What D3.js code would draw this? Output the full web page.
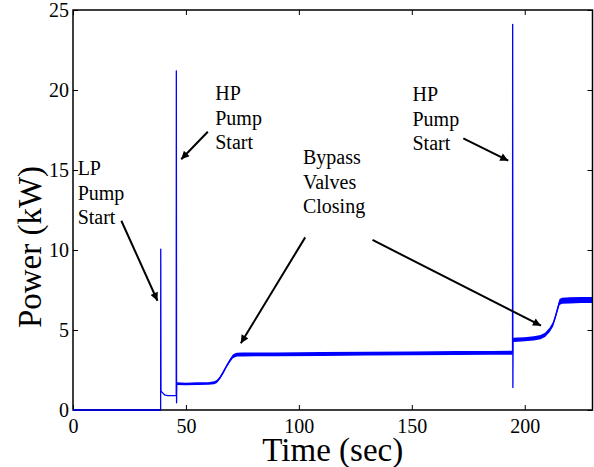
<!DOCTYPE html>
<html>
<head>
<meta charset="utf-8">
<script src="https://cdn.jsdelivr.net/npm/d3@7/dist/d3.min.js"></script>
<style>
  html, body { margin: 0; padding: 0; background: #fff; }
  svg { display: block; }
  svg text, svg tspan { font-family: "Liberation Serif", "Times New Roman", serif !important; fill: #000; }
</style>
</head>
<body>
<svg id="chart" width="594" height="467"></svg>
<script>
// Measured pump-skid power trace (time in seconds, power in kW)
const timeSec = [0, 38.8, 38.85, 38.95, 39.4, 40, 40.8, 42, 45.7, 45.75,
  45.85, 45.95, 50, 55, 60, 62.5, 63.7, 65, 66.5, 68,
  69.5, 70.8, 71.8, 72.6, 75, 90, 110, 130, 150, 170,
  185, 194.6, 194.65, 194.75, 194.85, 197, 200, 204, 207, 209,
  211, 212.5, 213.5, 214.5, 215.4, 216.5, 220, 225, 230];
const powerKW = [0, 0, 10.05, 1.2, 1.12, 1.02, 0.93, 0.9, 0.9, 21.2,
  0.45, 1.65, 1.63, 1.65, 1.66, 1.7, 1.78, 2.0, 2.35, 2.75,
  3.1, 3.35, 3.42, 3.46, 3.47, 3.48, 3.5, 3.52, 3.54, 3.56,
  3.57, 3.58, 24.1, 1.4, 4.38, 4.4, 4.42, 4.48, 4.55, 4.7,
  5.0, 5.35, 5.8, 6.3, 6.75, 6.83, 6.85, 6.87, 6.88];
// Half-width of the sensor noise band around the trace (kW)
const noiseKW = [0, 0, 0, 0, 0, 0, 0, 0, 0, 0,
  0, 0.08, 0.08, 0.08, 0.08, 0.09, 0.1, 0.1, 0.1, 0.1,
  0.11, 0.12, 0.12, 0.12, 0.12, 0.12, 0.12, 0.12, 0.12, 0.12,
  0.12, 0.12, 0, 0, 0.13, 0.13, 0.13, 0.13, 0.13, 0.13,
  0.14, 0.15, 0.16, 0.17, 0.18, 0.19, 0.19, 0.19, 0.19];

const xTicks = [0, 50, 100, 150, 200];
const yTicks = [0, 5, 10, 15, 20, 25];

// Event annotations: label lines, label anchor and arrow (all in data units)
const noteLabels = [["LP", "Pump", "Start"], ["HP", "Pump", "Start"],
  ["Bypass", "Valves", "Closing"], ["HP", "Pump", "Start"]];
const noteAnchor = [[2.05, 14.69], [62.96, 19.38], [101.8, 15.38], [150.3, 19.32]];
const noteArrows = [
  [[21.4, 11.83], [37.4, 6.83]],
  [[59.7, 17.39], [47.9, 15.67]],
  [[102.8, 10.79], [74.3, 4.17]],
  [[132.6, 10.63], [207.2, 5.27]],
  [[172.8, 16.98], [192.7, 15.58]]
];

const W = 594, H = 467;
const margin = { left: 73, top: 10, right: 1.5, bottom: 57 };
const serif = "'Liberation Serif', 'Times New Roman', serif";
const svg = d3.select("#chart");

const x = d3.scaleLinear().domain([0, 230]).range([margin.left, W - margin.right]);
const y = d3.scaleLinear().domain([0, 25]).range([H - margin.bottom, margin.top]);

const data = timeSec.map((t, i) => ({ t, p: powerKW[i], n: noiseKW[i] }));

// Noise band and trace
const band = d3.area().x(d => x(d.t)).y0(d => y(d.p - d.n)).y1(d => y(d.p + d.n));
svg.append("path").datum(data).attr("d", band).attr("fill", "#0000ff");
const line = d3.line().x(d => x(d.t)).y(d => y(d.p));
svg.append("path").datum(data).attr("d", line)
  .attr("fill", "none").attr("stroke", "#0000ff").attr("stroke-width", 1.3)
  .attr("stroke-linejoin", "round");

// Axes: ticks point inward on all four sides
const tickLen = 5;
const axStyle = g => {
  g.attr("font-family", serif).attr("font-size", 20);
  g.select(".domain").remove();
  g.selectAll(".tick line").attr("stroke", "#000").attr("stroke-width", 1);
  g.selectAll(".tick text").style("font-family", serif).style("font-size", "20px").attr("fill", "#000");
};
svg.append("g").attr("transform", `translate(0,${y(0)})`)
  .call(d3.axisBottom(x).tickValues(xTicks).tickSize(-tickLen).tickPadding(9).tickFormat(d3.format("d")))
  .call(axStyle);
svg.append("g").attr("transform", `translate(0,${y(25)})`)
  .call(d3.axisTop(x).tickValues(xTicks).tickSize(-tickLen).tickFormat(""))
  .call(axStyle);
svg.append("g").attr("transform", `translate(${x(0)},0)`)
  .call(d3.axisLeft(y).tickValues(yTicks).tickSize(-tickLen).tickPadding(4).tickFormat(d3.format("d")))
  .call(axStyle);
svg.append("g").attr("transform", `translate(${x(230)},0)`)
  .call(d3.axisRight(y).tickValues(yTicks).tickSize(-tickLen).tickFormat(""))
  .call(axStyle);

// Plot frame
svg.append("rect")
  .attr("x", x(0)).attr("y", y(25))
  .attr("width", x(230) - x(0)).attr("height", y(0) - y(25))
  .attr("fill", "none").attr("stroke", "#000").attr("stroke-width", 1.5);

// Zero-power segment sits over the bottom spine
svg.append("path").datum(data.slice(0, 2)).attr("d", line)
  .attr("stroke", "#0000ff").attr("stroke-width", 1.3).attr("fill", "none");

// Axis titles
svg.append("text").attr("x", (x(0) + x(230)) / 2).attr("y", 461)
  .attr("text-anchor", "middle").style("font-family", serif).style("font-size", "33px")
  .text("Time (sec)");
svg.append("text").attr("transform", `translate(41,247) rotate(-90)`)
  .attr("text-anchor", "middle").style("font-family", serif).style("font-size", "33px")
  .text("Power (kW)");

// Annotation labels
noteLabels.forEach((lines, i) => {
  const t = svg.append("text").style("font-family", serif).style("font-size", "20px")
    .attr("x", x(noteAnchor[i][0])).attr("y", y(noteAnchor[i][1]));
  lines.forEach((s, j) => {
    t.append("tspan").attr("x", x(noteAnchor[i][0])).attr("dy", j === 0 ? 0 : 24.7).text(s);
  });
});

// Arrows
svg.append("defs").append("marker")
  .attr("id", "head").attr("viewBox", "0 0 10 10")
  .attr("refX", 10).attr("refY", 5)
  .attr("markerWidth", 11).attr("markerHeight", 8)
  .attr("markerUnits", "userSpaceOnUse").attr("orient", "auto")
  .append("path").attr("d", "M0,0 L10,5 L0,10 Z").attr("fill", "#000");
noteArrows.forEach(([a, b]) => {
  svg.append("line")
    .attr("x1", x(a[0])).attr("y1", y(a[1]))
    .attr("x2", x(b[0])).attr("y2", y(b[1]))
    .attr("stroke", "#000").attr("stroke-width", 2)
    .attr("marker-end", "url(#head)");
});
</script>
</body>
</html>
